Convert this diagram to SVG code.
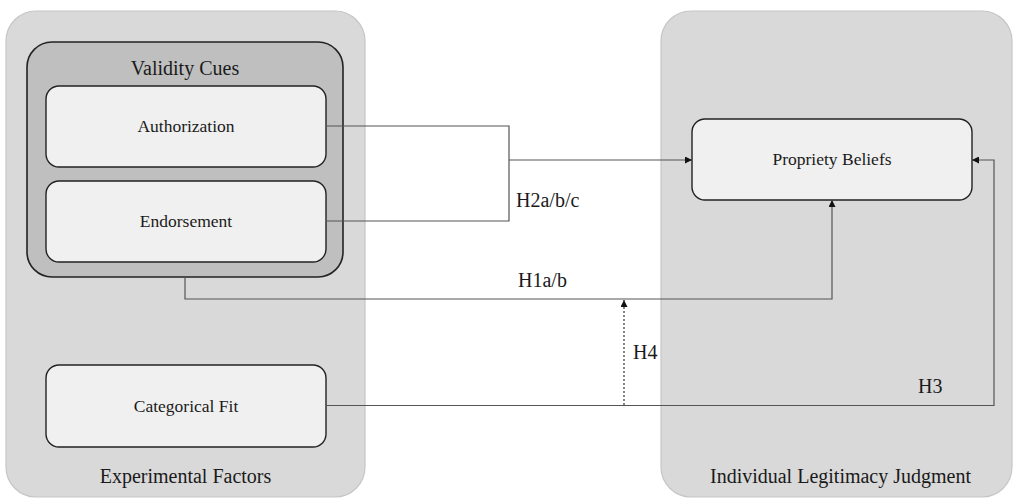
<svg xmlns="http://www.w3.org/2000/svg" width="1018" height="501" viewBox="0 0 1018 501">
  <style>
    .panel { fill: #d9d9d9; stroke: #c6c6c6; stroke-width: 1.2; }
    .group { fill: #bfbfbf; stroke: #222; stroke-width: 1.6; }
    .box { fill: #f0f0f0; stroke: #222; stroke-width: 1.4; }
    text { fill: #1a1a1a; }
    .node { font-size: 17.5px; text-anchor: middle; }
    .big { font-size: 20px; text-anchor: middle; }
    .hyp { font-size: 20px; }
    .wire { fill: none; stroke: #555; stroke-width: 1.2; }
    .dash { stroke-dasharray: 2 2; stroke: #333; }
  </style>
  <defs>
    <marker id="arr" viewBox="0 0 10 10" refX="10" refY="5" markerWidth="8" markerHeight="7" markerUnits="userSpaceOnUse" orient="auto">
      <path d="M0,0 L10,5 L0,10 Z" fill="#111"/>
    </marker>
  </defs>

  <rect width="1018" height="501" fill="#fff"/>

  <g font-family="Liberation Serif, DejaVu Serif, serif">
    <!-- Panels -->
    <g id="experimental-factors">
      <rect class="panel" x="6" y="11" width="359" height="486" rx="30"/>
      <text class="big" x="185.5" y="483">Experimental Factors</text>
    </g>
    <g id="individual-legitimacy-judgment">
      <rect class="panel" x="661" y="11" width="351" height="486" rx="30"/>
      <text class="big" x="840.5" y="483">Individual Legitimacy Judgment</text>
    </g>

    <!-- Validity cues group -->
    <g id="validity-cues">
      <rect class="group" x="27" y="42" width="316" height="235" rx="25"/>
      <text class="big" x="185" y="75">Validity Cues</text>
    </g>
    <g id="authorization">
      <rect class="box" x="46" y="86" width="280" height="81" rx="13"/>
      <text class="node" x="186" y="132">Authorization</text>
    </g>
    <g id="endorsement">
      <rect class="box" x="46" y="181" width="280" height="81" rx="13"/>
      <text class="node" x="186" y="227">Endorsement</text>
    </g>
    <g id="categorical-fit">
      <rect class="box" x="46" y="365" width="280" height="82" rx="13"/>
      <text class="node" x="186" y="412">Categorical Fit</text>
    </g>
    <g id="propriety-beliefs">
      <rect class="box" x="692" y="119" width="280" height="81" rx="13"/>
      <text class="node" x="832" y="165">Propriety Beliefs</text>
    </g>

    <!-- Connectors -->
    <g id="connectors">
      <polyline class="wire" points="326,126 509,126 509,221 326,221"/>
      <line class="wire" x1="509" y1="160" x2="692" y2="160" marker-end="url(#arr)"/>
      <polyline class="wire" points="185,277 185,299 832,299 832,200" marker-end="url(#arr)"/>
      <polyline class="wire" points="326,405.5 994,405.5 994,160 972,160" marker-end="url(#arr)"/>
      <line class="wire dash" x1="624" y1="405" x2="624" y2="300" marker-end="url(#arr)"/>
      <text class="hyp" x="516" y="207">H2a/b/c</text>
      <text class="hyp" x="518" y="287">H1a/b</text>
      <text class="hyp" x="633" y="359">H4</text>
      <text class="hyp" x="918" y="393">H3</text>
    </g>
  </g>
</svg>
